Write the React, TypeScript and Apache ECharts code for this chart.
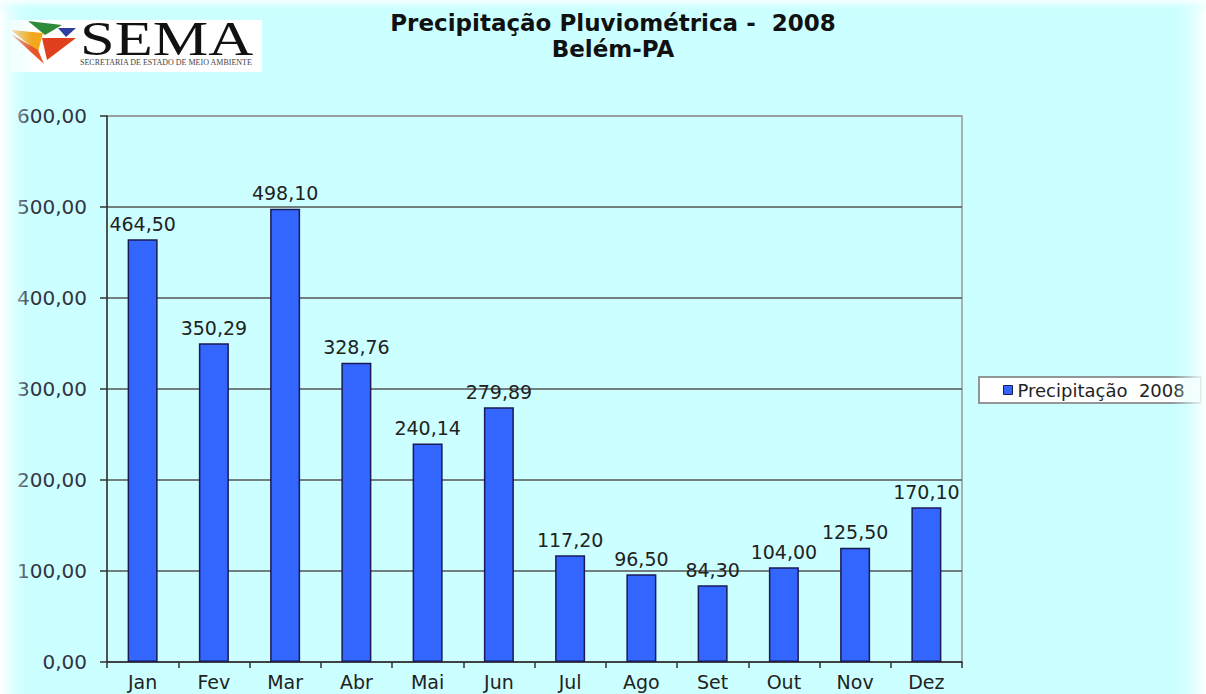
import React, { useEffect, useRef } from "react";
import * as echarts from "echarts";

const months = ["Jan", "Fev", "Mar", "Abr", "Mai", "Jun", "Jul", "Ago", "Set", "Out", "Nov", "Dez"];
const precip2008 = [464.5, 350.29, 498.1, 328.76, 240.14, 279.89, 117.2, 96.5, 84.3, 104.0, 125.5, 170.1];
const seriesName = "Precipitação  2008";
const titleLines = ["Precipitação Pluviométrica -  2008", "Belém-PA"];
const yMin = 0;
const yMax = 600;
const yStep = 100;

const fmt = (v: number) => v.toFixed(2).replace(".", ",");

export default function App() {
  const ref = useRef<HTMLDivElement>(null);
  useEffect(() => {
    if (!ref.current) return;
    const chart = echarts.init(ref.current, null, { renderer: "svg" });
    const font = "DejaVu Sans, Liberation Sans, Arial, sans-serif";
    const cyan = "#CCFFFF";
    chart.setOption({
      animation: false,
      backgroundColor: cyan,
      title: {
        text: titleLines.join("\n"),
        left: 608,
        textAlign: "center",
        top: 5,
        textStyle: { fontFamily: font, fontSize: 23, fontWeight: "bold", color: "#111", lineHeight: 26 },
      },
      legend: {
        left: 979,
        top: 377,
        orient: "vertical",
        backgroundColor: "#FFFFFF",
        borderColor: "#777",
        borderWidth: 1.5,
        padding: [4, 16, 4, 24],
        itemWidth: 9,
        itemHeight: 9,
        icon: "rect",
        textStyle: { fontFamily: font, fontSize: 18, color: "#222" },
        data: [{ name: seriesName, itemStyle: { color: "#3366FF", borderColor: "#1a1a55", borderWidth: 1 } }],
      },
      grid: {
        left: 107,
        top: 116,
        right: 244,
        bottom: 32,
        outerBoundsMode: "none",
        containLabel: false,
        show: true,
        borderColor: "#999",
        borderWidth: 1.5,
        backgroundColor: "transparent",
      },
      xAxis: {
        type: "category",
        data: months,
        axisLine: { lineStyle: { color: "#333", width: 1.5 } },
        axisTick: { show: true, length: 6, lineStyle: { color: "#333", width: 1.5 } },
        axisLabel: { fontFamily: font, fontSize: 19, color: "#222", margin: 10 },
      },
      yAxis: {
        type: "value",
        min: yMin,
        max: yMax,
        interval: yStep,
        axisLine: { show: true, lineStyle: { color: "#333", width: 1.5 } },
        axisTick: { show: true, length: 7, lineStyle: { color: "#333", width: 1.5 } },
        axisLabel: { fontFamily: font, fontSize: 20, color: "#334", margin: 20, formatter: (v: number) => fmt(v) },
        splitLine: {
          lineStyle: { color: ["#555", "#555", "#555", "#555", "#555", "#555", "#999"], width: 1.5 },
        },
      },
      series: [
        {
          name: seriesName,
          type: "bar",
          data: precip2008,
          barWidth: 30,
          itemStyle: { color: "#3366FF", borderColor: "#1a1a55", borderWidth: 1.5 },
          label: {
            show: true,
            position: "top",
            distance: 6,
            fontFamily: font,
            fontSize: 19,
            color: "#222",
            formatter: (p: any) => fmt(p.value),
          },
        },
      ],
      graphic: [
        {
          type: "rect",
          z: 100,
          silent: true,
          shape: { x: 0, y: 0, width: 32, height: 694 },
          style: {
            fill: new echarts.graphic.LinearGradient(0, 0, 1, 0, [
              { offset: 0, color: "rgba(255,255,255,1)" },
              { offset: 1, color: "rgba(204,255,255,0)" },
            ]),
          },
        },
        {
          type: "rect",
          z: 100,
          silent: true,
          shape: { x: 1172, y: 0, width: 34, height: 694 },
          style: {
            fill: new echarts.graphic.LinearGradient(0, 0, 1, 0, [
              { offset: 0, color: "rgba(204,255,255,0)" },
              { offset: 1, color: "rgba(255,255,255,1)" },
            ]),
          },
        },
        {
          type: "rect",
          z: 100,
          silent: true,
          shape: { x: 0, y: 0, width: 1206, height: 12 },
          style: {
            fill: new echarts.graphic.LinearGradient(0, 0, 0, 1, [
              { offset: 0, color: "rgba(255,255,255,0.9)" },
              { offset: 1, color: "rgba(204,255,255,0)" },
            ]),
          },
        },
        {
          type: "group",
          z: 110,
          children: [
            { type: "rect", shape: { x: 10, y: 20, width: 252, height: 52 }, style: { fill: "#FFFFFF" } },
            { type: "polygon", shape: { points: [[28, 21], [62, 25], [45, 35]] }, style: { fill: "#2E8B3A" } },
            { type: "polygon", shape: { points: [[11, 30], [43, 33], [38, 52]] }, style: { fill: "#F2A81D" } },
            { type: "polygon", shape: { points: [[11, 34], [38, 50], [44, 64]] }, style: { fill: "#E8552A" } },
            { type: "polygon", shape: { points: [[58, 28], [76, 28], [66, 37]] }, style: { fill: "#2B3FA0" } },
            { type: "polygon", shape: { points: [[42, 38], [76, 38], [47, 60]] }, style: { fill: "#E0401E" } },
            {
              type: "text",
              x: 80,
              y: 15,
              scaleX: 1.3,
              style: {
                text: "SEMA",
                font: "48px 'Liberation Serif', 'Times New Roman', serif",
                fill: "#111",
                align: "left",
                verticalAlign: "top",
              },
            },
            {
              type: "text",
              x: 80,
              y: 58,
              style: {
                text: "SECRETARIA DE ESTADO DE MEIO AMBIENTE",
                font: "8px 'Liberation Serif', 'Times New Roman', serif",
                fill: "#444",
                align: "left",
                verticalAlign: "top",
              },
            },
          ],
        },
      ],
    });
    return () => chart.dispose();
  }, []);
  return <div ref={ref} style={{ position: "absolute", left: 0, top: 0, width: 1206, height: 694 }} />;
}
